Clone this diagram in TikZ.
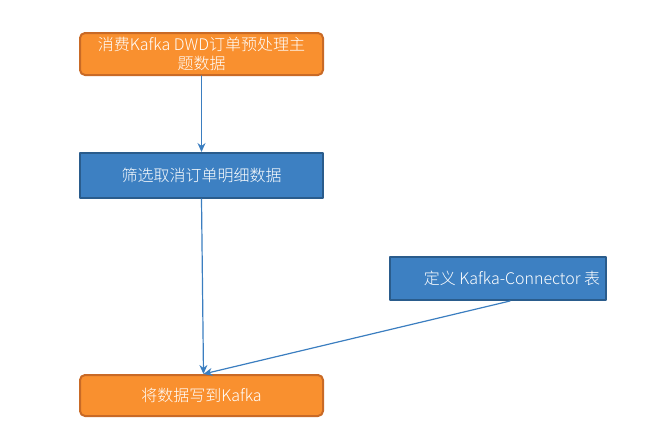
\documentclass[tikz,border=0pt]{standalone}
\usepackage{fontspec}
\usetikzlibrary{arrows.meta}
\setmainfont{Liberation Sans}
\newfontfamily\cjk{Noto Sans CJK SC Light}
\definecolor{procorange}{HTML}{F9902F}
\definecolor{procorangeedge}{HTML}{C96A26}
\definecolor{procblue}{HTML}{3D80C2}
\definecolor{procblueedge}{HTML}{2A5C8C}
\definecolor{flowline}{HTML}{3B7EC0}
\tikzset{
  orangebox/.style={draw=procorangeedge, fill=procorange, line width=2pt,
    rounded corners=5pt, text=white, font=\cjk\fontsize{16}{18.5}\selectfont,
    align=center, inner sep=0pt},
  bluebox/.style={draw=procblueedge, fill=procblue, line width=2pt,
    text=white, font=\cjk\fontsize{16}{18.5}\selectfont, align=center, inner sep=0pt},
  flow/.style={-{Stealth[length=9pt, width=8pt]}, draw=flowline, line width=1.2pt}
}
\begin{document}
\begin{tikzpicture}[x=1pt, y=-1pt, line cap=round, line join=round]
  \useasboundingbox (0,0) rectangle (672,440);

  % Boxes
  \node[orangebox, minimum width=243pt, minimum height=42pt] (consume) at (201.5, 54)
    {消费Kafka DWD订单预处理主\\题数据};
  \node[bluebox, minimum width=243pt, minimum height=45pt] (filter) at (201.5, 175.5)
    {筛选取消订单明细数据};
  \node[bluebox, minimum width=216pt, minimum height=43pt] (connector) at (498, 278.5)
    {\hspace*{28pt}定义 Kafka-Connector 表};
  \node[orangebox, minimum width=243pt, minimum height=41pt] (write) at (201.5, 395.5)
    {将数据写到Kafka};

  % Connectors
  \draw[flow] (consume.south) -- (filter.north);
  \draw[flow] (filter.south) -- ([xshift=2pt]write.north);
  \draw[flow] ([xshift=12pt]connector.south) -- ([xshift=2pt]write.north);
\end{tikzpicture}
\end{document}
